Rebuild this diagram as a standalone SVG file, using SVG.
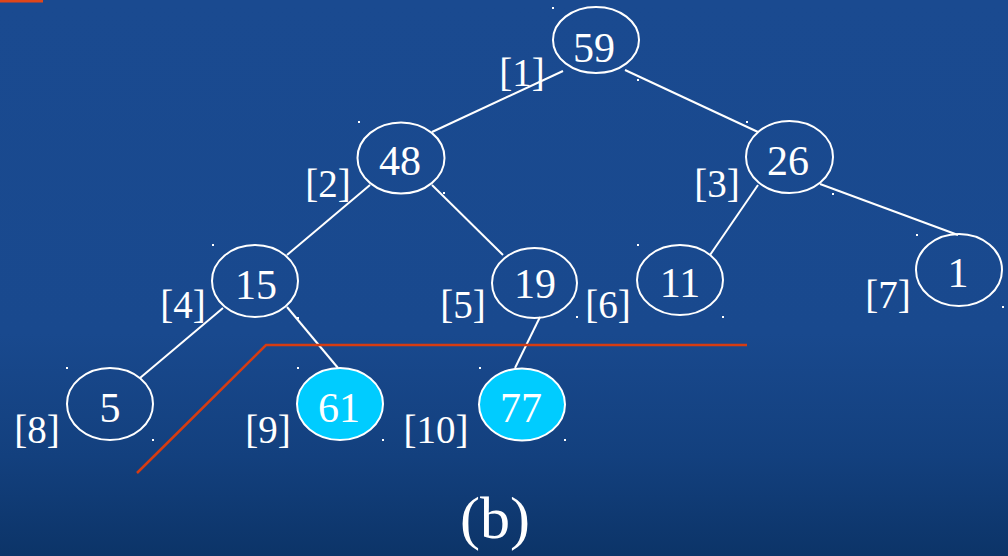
<svg xmlns="http://www.w3.org/2000/svg" width="1008" height="556" viewBox="0 0 1008 556">
  <defs>
    <linearGradient id="bg" x1="0" y1="0" x2="0" y2="1">
      <stop offset="0" stop-color="#1a4a90"/>
      <stop offset="0.6" stop-color="#19498e"/>
      <stop offset="0.82" stop-color="#13407e"/>
      <stop offset="1" stop-color="#0c3468"/>
    </linearGradient>
  </defs>
  <style>
    .node ellipse { fill: none; stroke: #ffffff; stroke-width: 2; }
    .node.hl ellipse { fill: #00ccff; }
    .num { font-family: "Liberation Serif", "Times New Roman", serif; font-size: 42px; fill: #ffffff; text-anchor: middle; }
    .idx { font-family: "Liberation Serif", "Times New Roman", serif; font-size: 39px; fill: #ffffff; text-anchor: middle; }
    .cap { font-family: "Liberation Serif", "Times New Roman", serif; font-size: 60px; fill: #ffffff; text-anchor: middle; }
    #connectors line { stroke: #ffffff; stroke-width: 2; }
    .cut { fill: none; stroke: #d63c12; stroke-width: 2.5; }
    .dot { fill: #ffffff; }
  </style>
  <rect width="1008" height="556" fill="url(#bg)"/>
  <rect x="0" y="0" width="43" height="2.5" fill="#e0461a"/>

  <g id="connectors">
    <line x1="563" y1="71" x2="432" y2="132"/>
    <line x1="625" y1="70" x2="758" y2="132"/>
    <line x1="370" y1="185" x2="287" y2="255"/>
    <line x1="432" y1="185" x2="503" y2="255"/>
    <line x1="758" y1="185" x2="710" y2="255"/>
    <line x1="820" y1="184" x2="958" y2="235"/>
    <line x1="223" y1="308" x2="140" y2="378"/>
    <line x1="287" y1="307" x2="338" y2="368"/>
    <line x1="540" y1="317" x2="515" y2="368"/>
  </g>

  <polyline class="cut" points="137,473 266,345 747,345"/>

  <g id="n1" class="node"><ellipse cx="596" cy="40" rx="43" ry="33"/><text class="num" x="594" y="62">59</text><text class="idx" x="522" y="86">[1]</text></g>
  <g id="n2" class="node"><ellipse cx="401" cy="158" rx="43.5" ry="35.5"/><text class="num" x="400" y="175">48</text><text class="idx" x="328" y="197">[2]</text></g>
  <g id="n3" class="node"><ellipse cx="789.5" cy="157" rx="43.5" ry="36"/><text class="num" x="788" y="175">26</text><text class="idx" x="717" y="197">[3]</text></g>
  <g id="n4" class="node"><ellipse cx="255" cy="281" rx="43" ry="36"/><text class="num" x="256" y="299">15</text><text class="idx" x="183" y="318">[4]</text></g>
  <g id="n5" class="node"><ellipse cx="534.5" cy="283" rx="42.5" ry="35"/><text class="num" x="535" y="298">19</text><text class="idx" x="463" y="318">[5]</text></g>
  <g id="n6" class="node"><ellipse cx="680" cy="280" rx="43" ry="35"/><text class="num" x="680" y="297">11</text><text class="idx" x="608" y="318">[6]</text></g>
  <g id="n7" class="node"><ellipse cx="959" cy="270" rx="43" ry="36"/><text class="num" x="958" y="287">1</text><text class="idx" x="888" y="308">[7]</text></g>
  <g id="n8" class="node"><ellipse cx="110" cy="404" rx="43" ry="36"/><text class="num" x="110" y="422">5</text><text class="idx" x="37" y="443">[8]</text></g>
  <g id="n9" class="node hl"><ellipse cx="340" cy="404" rx="43" ry="36"/><text class="num" x="339" y="422">61</text><text class="idx" x="268" y="443">[9]</text></g>
  <g id="n10" class="node hl"><ellipse cx="522" cy="404.5" rx="43" ry="36"/><text class="num" x="521" y="422">77</text><text class="idx" x="436" y="443">[10]</text></g>

  <g id="handles">
    <rect class="dot" x="552" y="7" width="2" height="2"/>
    <rect class="dot" x="637" y="79" width="2" height="2"/>
    <rect class="dot" x="358" y="121" width="2" height="2"/>
    <rect class="dot" x="443" y="192" width="2" height="2"/>
    <rect class="dot" x="746" y="121" width="2" height="2"/>
    <rect class="dot" x="832" y="193" width="2" height="2"/>
    <rect class="dot" x="212" y="244" width="2" height="2"/>
    <rect class="dot" x="297" y="317" width="2" height="2"/>
    <rect class="dot" x="576" y="316" width="2" height="2"/>
    <rect class="dot" x="637" y="244" width="2" height="2"/>
    <rect class="dot" x="722" y="316" width="2" height="2"/>
    <rect class="dot" x="916" y="234" width="2" height="2"/>
    <rect class="dot" x="1002" y="306" width="2" height="2"/>
    <rect class="dot" x="66" y="367" width="2" height="2"/>
    <rect class="dot" x="152" y="439" width="2" height="2"/>
    <rect class="dot" x="297" y="367" width="2" height="2"/>
    <rect class="dot" x="382" y="439" width="2" height="2"/>
    <rect class="dot" x="479" y="367" width="2" height="2"/>
    <rect class="dot" x="564" y="439" width="2" height="2"/>
  </g>

  <text class="cap" x="495" y="538">(b)</text>
</svg>
